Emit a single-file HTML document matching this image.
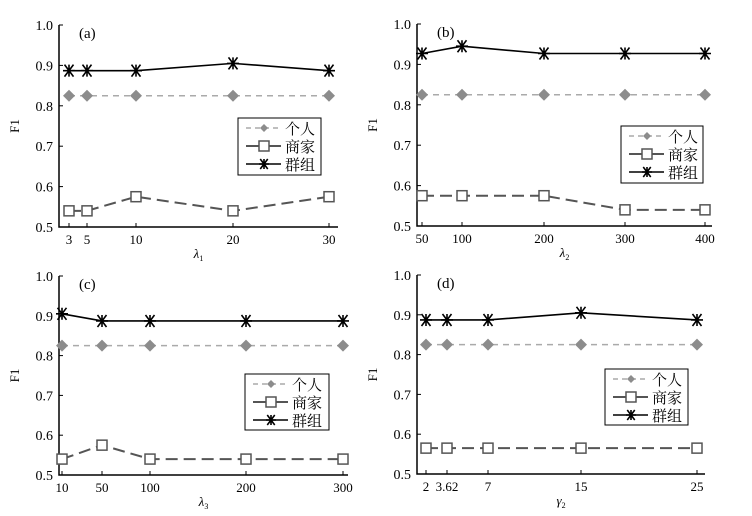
<!DOCTYPE html>
<html><head><meta charset="utf-8"><style>
html,body{margin:0;padding:0;background:#fff;overflow:hidden;}
svg{display:block;font-family:"Liberation Serif","Noto Serif CJK SC",serif;}
</style></head><body>
<svg id="s" width="752" height="516" xmlns="http://www.w3.org/2000/svg"></svg>
<script>
const panels=[
 {ax:59,y1:25,y0:227,xe:338,lab:'(a)',xs:[69,87,136,233,329],xl:['3','5','10','20','30'],
  g:[.887,.887,.887,.905,.887],m:[.54,.54,.575,.54,.575],leg:[238,118,321,175],xn:'λ',sub:'1'},
 {ax:417,y1:24,y0:226,xe:712,lab:'(b)',xs:[422,462,544,625,705],xl:['50','100','200','300','400'],
  g:[.927,.945,.927,.927,.927],m:[.575,.575,.575,.54,.54],leg:[621,126,703,183],xn:'λ',sub:'2'},
 {ax:59,y1:276,y0:475,xe:348,lab:'(c)',xs:[62,102,150,246,343],xl:['10','50','100','200','300'],
  g:[.905,.887,.887,.887,.887],m:[.54,.575,.54,.54,.54],leg:[245,374,329,430],xn:'λ',sub:'3'},
 {ax:417,y1:275,y0:474,xe:705,lab:'(d)',xs:[426,447,488,581,697],xl:['2','3.62','7','15','25'],
  g:[.887,.887,.887,.905,.887],m:[.565,.565,.565,.565,.565],leg:[605,369,688,425],xn:'γ',sub:'2'}
];
let h='';
function dia(x,y,c,s=6){return `<path d="M${x} ${y-s}L${x+s} ${y}L${x} ${y+s}L${x-s} ${y}Z" fill="${c}"/>`;}
function sq(x,y){return `<rect x="${x-5}" y="${y-5}" width="10" height="10" fill="#fff" stroke="#555" stroke-width="1.5"/>`;}
function ast(x,y,s=6){return `<path d="M${x-s} ${y}H${x+s}M${x-s*.75} ${y-s}L${x+s*.75} ${y+s}M${x+s*.75} ${y-s}L${x-s*.75} ${y+s}M${x} ${y-s}V${y+s}" stroke="#000" stroke-width="1.6"/>`;}
for(const p of panels){
 const Y=v=>p.y0-(v-0.5)/0.5*(p.y0-p.y1);
 h+=`<path d="M${p.ax} ${p.y1}V${p.y0}H${p.xe}" stroke="#000" stroke-width="1.5" fill="none"/>`;
 for(let i=0;i<=5;i++){const v=0.5+i*0.1,y=Y(v);
  h+=`<line x1="${p.ax}" x2="${p.ax+4}" y1="${y}" y2="${y}" stroke="#000"/>`;
  h+=`<text x="${p.ax-6}" y="${y+5}" font-size="14" text-anchor="end">${v.toFixed(1)}</text>`;}
 p.xs.forEach((x,i)=>{h+=`<line x1="${x}" x2="${x}" y1="${p.y0}" y2="${p.y0-4}" stroke="#000"/>`;
  h+=`<text x="${x}" y="${p.y0+17}" font-size="13" text-anchor="middle">${p.xl[i]}</text>`;});
 const my=(p.y1+p.y0)/2;
 h+=`<text transform="translate(${p.ax-40},${my}) rotate(-90)" font-size="13" text-anchor="middle">F1</text>`;
 const cx=(p.ax+p.xe)/2;
 h+=`<text x="${cx}" y="${p.y0+31}" font-size="13" font-style="italic" text-anchor="middle">${p.xn}<tspan font-size="8" dy="3" font-style="normal">${p.sub}</tspan></text>`;
 h+=`<text x="${p.ax+20}" y="${p.y1+13}" font-size="15">${p.lab}</text>`;
 const pts=a=>a.map((v,i)=>p.xs[i]+','+Y(v)).join(' ');
 h+=`<polyline points="${pts([.825,.825,.825,.825,.825])}" fill="none" stroke="#aaa" stroke-width="1.5" stroke-dasharray="6,5"/>`;
 h+=`<polyline points="${pts(p.m)}" fill="none" stroke="#555" stroke-width="2" stroke-dasharray="12,6"/>`;
 h+=`<polyline points="${pts(p.g)}" fill="none" stroke="#000" stroke-width="1.6"/>`;
 p.xs.forEach((x,i)=>{h+=dia(x,Y(.825),'#8c8c8c')+sq(x,Y(p.m[i]))+ast(x,Y(p.g[i]));});
 const [l,t,r,b]=p.leg;
 h+=`<rect x="${l}" y="${t}" width="${r-l}" height="${b-t}" fill="#fff" stroke="#000"/>`;
 const rows=[t+10,t+28,t+46];
 h+=`<line x1="${l+8}" x2="${l+43}" y1="${rows[0]}" y2="${rows[0]}" stroke="#aaa" stroke-width="1.5" stroke-dasharray="5,4"/>`+dia(l+26,rows[0],'#8c8c8c',4);
 h+=`<line x1="${l+8}" x2="${l+43}" y1="${rows[1]}" y2="${rows[1]}" stroke="#555" stroke-width="2"/>`+sq(l+26,rows[1]);
 h+=`<line x1="${l+8}" x2="${l+43}" y1="${rows[2]}" y2="${rows[2]}" stroke="#000" stroke-width="1.6"/>`+ast(l+26,rows[2],5);
 ['个人','商家','群组'].forEach((s,i)=>{h+=`<text x="${l+47}" y="${rows[i]+6}" font-size="15" font-family="'Noto Serif CJK SC','Noto Sans CJK SC',serif">${s}</text>`;});
}
document.getElementById('s').innerHTML=h;
</script>
</body></html>
